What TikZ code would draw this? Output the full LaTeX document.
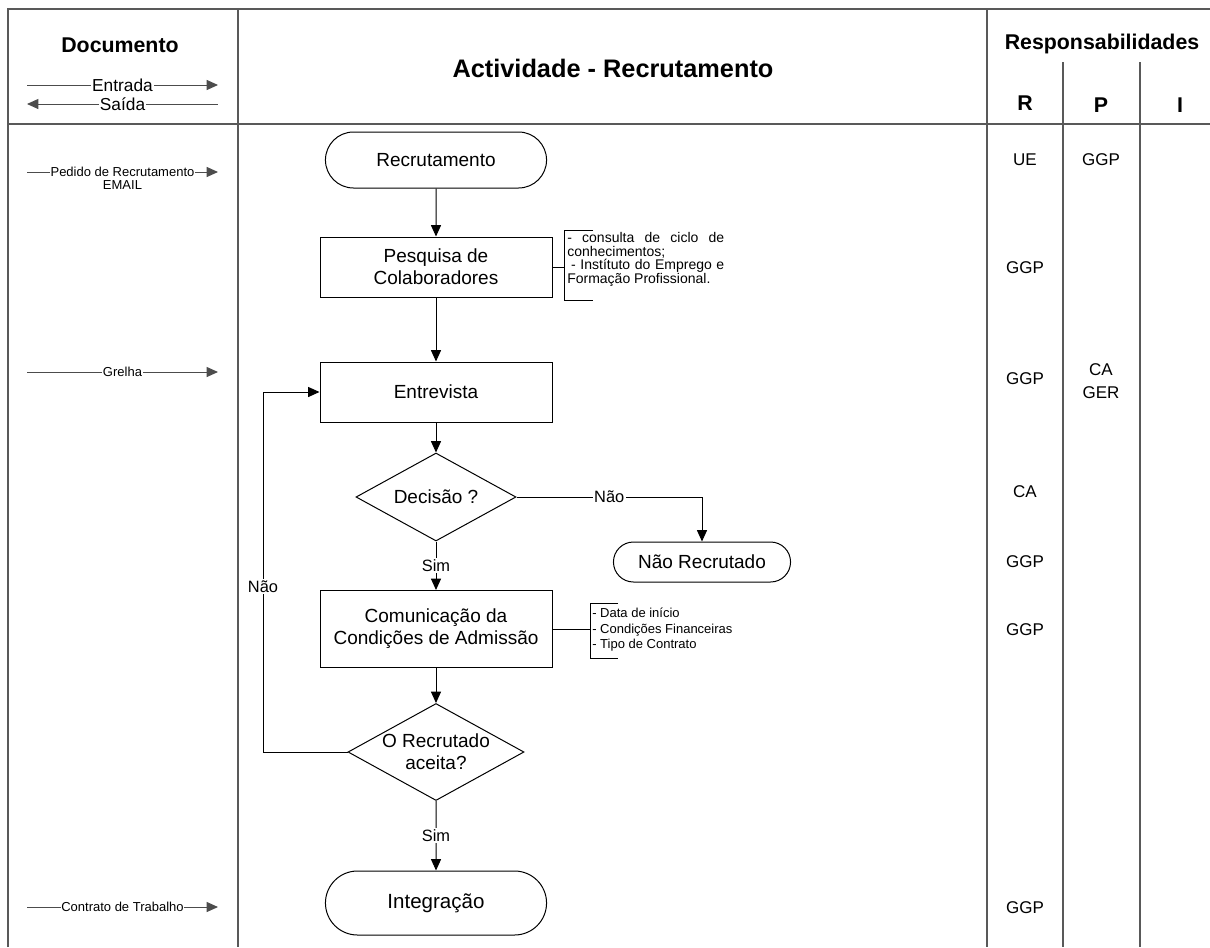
\documentclass[tikz,border=0pt]{standalone}
\usepackage{fontspec}
\setmainfont{Liberation Sans}
\usetikzlibrary{arrows.meta,shapes.geometric,shapes.misc,positioning}

\begin{document}
\begin{tikzpicture}[x=0.75pt,y=-0.75pt,>={Triangle[length=8.5pt,width=7.5pt]},
    frame/.style={draw=black!65,line width=0.8pt},
    line/.style={draw,line width=0.75pt},
    flow/.style={->,line width=0.75pt},
    term/.style={rounded rectangle,draw,line width=0.75pt,minimum width=172.5pt,minimum height=42pt,font=\fontsize{14.25}{16.5}\selectfont},
    proc/.style={rectangle,draw,line width=0.75pt,minimum width=174pt,minimum height=45pt,align=center,font=\fontsize{14.25}{16.5}\selectfont},
    decide/.style={diamond,draw,line width=0.75pt,aspect=1.8,inner sep=0pt,align=center,font=\fontsize{14.25}{16.5}\selectfont},
    tag/.style={fill=white,inner sep=1pt,font=\fontsize{12.3}{14}\selectfont},
    head/.style={font=\bfseries\fontsize{16}{19}\selectfont},
    resp/.style={align=center,font=\fontsize{12.75}{17}\selectfont},
    docin/.style={->,draw=black!70,line width=0.75pt},
    doclabel/.style={fill=white,inner sep=0.5pt,font=\fontsize{9.75}{11}\selectfont},
    note/.style={inner sep=0pt,font=\fontsize{10.5}{10.3}\selectfont}]
  \useasboundingbox (0,0) rectangle (1210,947);

  % frame
  \draw[frame] (8,947) -- (8,9) -- (1210,9);
  \draw[frame] (8,124) -- (1210,124);
  \draw[frame] (238,9) -- (238,947);
  \draw[frame] (987,9) -- (987,947);
  \draw[frame] (1063,62) -- (1063,947);
  \draw[frame] (1140,62) -- (1140,947);

  % header
  \node[head] (docu) at (120,45) {Documento};
  \draw[docin] (27,85) -- node[doclabel,font=\fontsize{13}{15}\selectfont] (entrada) {Entrada} (218,85);
  \draw[docin,<-] (27,104) -- node[doclabel,font=\fontsize{13}{15}\selectfont] (saida) {Saída} (218,104);
  \node[font=\bfseries\fontsize{19}{22}\selectfont] (titulo) at (613,68) {Actividade - Recrutamento};
  \node[head] (resps) at (1102,44) {Responsabilidades};
  \node[head] (colR) at (1025,103) {R};
  \node[head] (colP) at (1101,105) {P};
  \node[head] (colI) at (1180,105) {I};

  % flowchart
  \node[term] (recrut) at (436,160) {Recrutamento};
  \node[proc] (pesquisa) at (436,267) {Pesquisa de\\Colaboradores};
  \node[proc] (entrevista) at (436,392) {Entrevista};
  \node[decide,minimum width=120pt,minimum height=66pt] (decisao) at (436,497) {Decisão ?};
  \node[term,minimum width=139.5pt,minimum height=30pt] (naorecrut) at (702,562) {Não Recrutado};
  \node[proc,minimum height=57.75pt] (comunic) at (436,629) {Comunicação da\\Condições de Admissão};
  \node[decide,minimum width=132pt,minimum height=72.75pt] (aceita) at (436,752) {O Recrutado\\aceita?};
  \node[term,minimum height=48pt,font=\fontsize{15.4}{18}\selectfont] (integra) at (436,903) {Integração};
  \coordinate (volta) at (263,0);

  \draw[flow] (recrut) -- (pesquisa);
  \draw[flow] (pesquisa) -- (entrevista);
  \draw[flow] (entrevista) -- (decisao);
  \draw[flow] (decisao.east) -- node[tag] {Não} (decisao.east -| naorecrut.north) -- (naorecrut.north);
  \draw[flow] (decisao) -- node[tag] {Sim} (comunic);
  \draw[flow] (comunic) -- (aceita);
  \draw[flow] (aceita.west) -- (aceita.west -| volta) -- node[tag,pos=0.46] {Não} (volta |- entrevista.west) -- (entrevista.west);
  \draw[flow] (aceita) -- node[tag] {Sim} (integra);

  % notes
  \coordinate (brkA) at (564,267);
  \draw[line] (pesquisa.east) -- (brkA);
  \draw[line] (593,230) -- (564,230) -- (564,300) -- (593,300);
  \node[note,text width=117.75pt,align=justify,anchor=north west] (notaA) at (567,232)
    {- consulta de ciclo de \mbox{conhecimentos;}\\\hspace*{0.28em}- Instítuto do Emprego e \mbox{Formação} \mbox{Profissional.}};
  \coordinate (brkB) at (590,629);
  \draw[line] (comunic.east) -- (brkB);
  \draw[line] (618,603) -- (590,603) -- (590,658) -- (618,658);
  \node[note,align=left,anchor=west,font=\fontsize{9.75}{11.6}\selectfont] (notaB) at (592,630)
    {- Data de início\\- Condições Financeiras\\- Tipo de Contrato};

  % documents
  \draw[docin] (27,172) -- node[doclabel] (pedido) {Pedido de Recrutamento} (218,172);
  \node[doclabel,below=1pt of pedido] (email) {EMAIL};
  \draw[docin] (27,372) -- node[doclabel] (grelha) {Grelha} (218,372);
  \draw[docin] (27,907) -- node[doclabel] (contrato) {Contrato de Trabalho} (218,907);

  % responsibilities
  \node[resp] (rRec) at (1025,160) {UE};
  \node[resp] (pRec) at (1101,160) {GGP};
  \node[resp] (rPesq) at (1025,268) {GGP};
  \node[resp] (rEntr) at (1025,379) {GGP};
  \node[resp] (pEntr) at (1101,381) {CA\\GER};
  \node[resp] (rDec) at (1025,492) {CA};
  \node[resp] (rNao) at (1025,562) {GGP};
  \node[resp] (rCom) at (1025,630) {GGP};
  \node[resp] (rInt) at (1025,908) {GGP};
\end{tikzpicture}
\end{document}
